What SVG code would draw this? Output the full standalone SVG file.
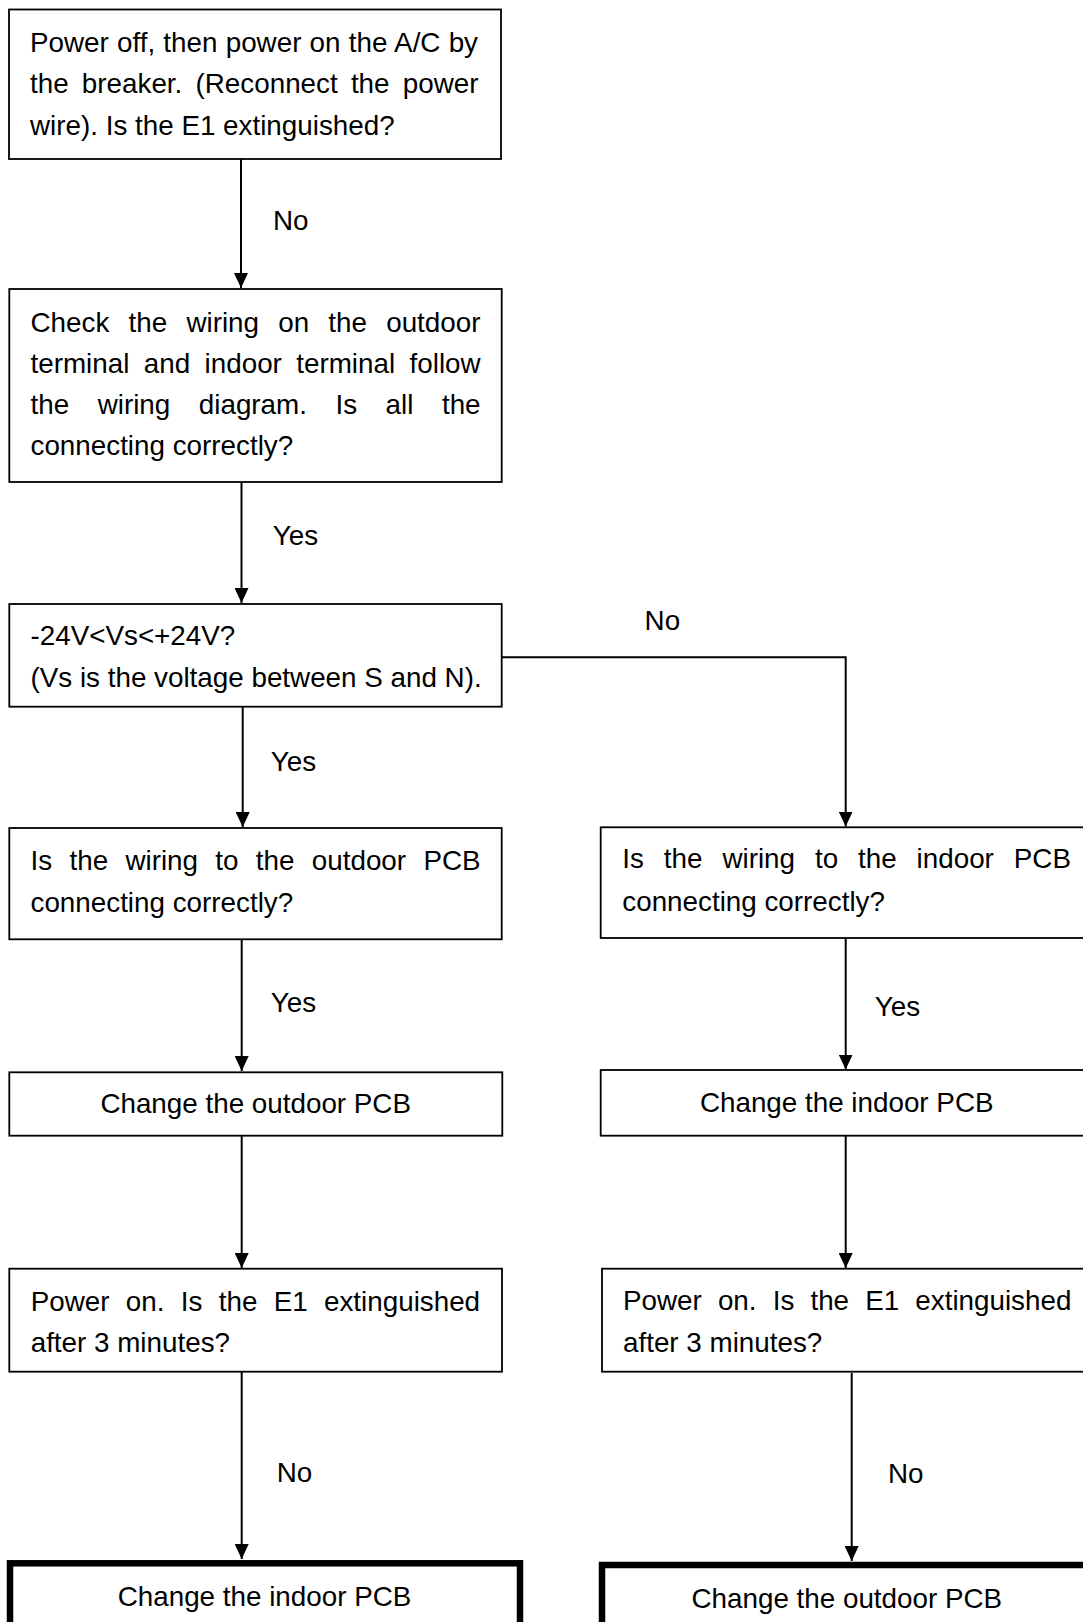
<svg xmlns="http://www.w3.org/2000/svg" width="1083" height="1622" viewBox="0 0 1083 1622">
<style>
  .box{fill:#fff;stroke:#000;stroke-width:1.8}
  .end{fill:#fff;stroke:#000;stroke-width:6.5}
  .t{font-family:"Liberation Sans",Arial,sans-serif;font-size:27.8px;fill:#000}
  .c{text-anchor:middle}
  .conn{fill:none;stroke:#000;stroke-width:2}
</style>
<defs>
  <marker id="arr" markerUnits="userSpaceOnUse" markerWidth="15" markerHeight="14" refX="15" refY="7" orient="auto">
    <path d="M0,0 L15,7 L0,14 z" fill="#000"/>
  </marker>
</defs>
<rect width="1083" height="1622" fill="#fff"/>

<g id="connectors">
  <line class="conn" x1="241" y1="159" x2="241" y2="288" marker-end="url(#arr)"/>
  <line class="conn" x1="241.5" y1="482" x2="241.5" y2="603" marker-end="url(#arr)"/>
  <line class="conn" x1="242.7" y1="707" x2="242.7" y2="827" marker-end="url(#arr)"/>
  <line class="conn" x1="241.7" y1="939" x2="241.7" y2="1071" marker-end="url(#arr)"/>
  <line class="conn" x1="241.7" y1="1136" x2="241.7" y2="1268" marker-end="url(#arr)"/>
  <line class="conn" x1="241.7" y1="1372" x2="241.7" y2="1559" marker-end="url(#arr)"/>
  <path class="conn" d="M501.7,657.3 H845.7 V826.5" marker-end="url(#arr)"/>
  <line class="conn" x1="845.7" y1="938" x2="845.7" y2="1069.5" marker-end="url(#arr)"/>
  <line class="conn" x1="845.7" y1="1134" x2="845.7" y2="1268" marker-end="url(#arr)"/>
  <line class="conn" x1="851.7" y1="1373" x2="851.7" y2="1561" marker-end="url(#arr)"/>
  <text class="t" x="273" y="230">No</text>
  <text class="t" x="272.7" y="545">Yes</text>
  <text class="t" x="644.6" y="630">No</text>
  <text class="t" x="270.7" y="770.7">Yes</text>
  <text class="t" x="270.7" y="1011.7">Yes</text>
  <text class="t" x="874.7" y="1016">Yes</text>
  <text class="t" x="276.7" y="1481.7">No</text>
  <text class="t" x="888" y="1483.3">No</text>
</g>

<g id="n1">
  <rect class="box" x="9" y="9.5" width="492" height="149.5"/>
  <text class="t" x="30" y="51.7" word-spacing="0.5">Power off, then power on the A/C by</text>
  <text class="t" x="30" y="93.3" word-spacing="5.5">the breaker. (Reconnect the power</text>
  <text class="t" x="30" y="135">wire). Is the E1 extinguished?</text>
</g>

<g id="n2">
  <rect class="box" x="9.3" y="289" width="492.4" height="193"/>
  <text class="t" x="30.5" y="331.7" word-spacing="11.5">Check the wiring on the outdoor</text>
  <text class="t" x="30.5" y="372.7" word-spacing="6.7">terminal and indoor terminal follow</text>
  <text class="t" x="30.5" y="414.3" word-spacing="20.8">the wiring diagram. Is all the</text>
  <text class="t" x="30.5" y="455">connecting correctly?</text>
</g>

<g id="n3">
  <rect class="box" x="9.3" y="604" width="492.4" height="102.7"/>
  <text class="t" x="30.5" y="645">-24V&lt;Vs&lt;+24V?</text>
  <text class="t" x="30.5" y="686.7">(Vs is the voltage between S and N).</text>
</g>

<g id="n4L">
  <rect class="box" x="9.3" y="828" width="492.4" height="111.3"/>
  <text class="t" x="30.5" y="870" word-spacing="9.6">Is the wiring to the outdoor PCB</text>
  <text class="t" x="30.5" y="911.7">connecting correctly?</text>
</g>

<g id="n4R">
  <rect class="box" x="600.7" y="827.3" width="494" height="110.7"/>
  <text class="t" x="622.3" y="868.3" word-spacing="12.2">Is the wiring to the indoor PCB</text>
  <text class="t" x="622.3" y="910.7">connecting correctly?</text>
</g>

<g id="n5L">
  <rect class="box" x="9.3" y="1072.3" width="493" height="63.4"/>
  <text class="t c" x="255.7" y="1113.3">Change the outdoor PCB</text>
</g>

<g id="n5R">
  <rect class="box" x="600.7" y="1070" width="494" height="65.7"/>
  <text class="t c" x="846.7" y="1111.7">Change the indoor PCB</text>
</g>

<g id="n6L">
  <rect class="box" x="9.3" y="1268.7" width="492.7" height="103"/>
  <text class="t" x="30.7" y="1310.7" word-spacing="8.6">Power on. Is the E1 extinguished</text>
  <text class="t" x="30.7" y="1351.7">after 3 minutes?</text>
</g>

<g id="n6R">
  <rect class="box" x="602" y="1268.7" width="494" height="103"/>
  <text class="t" x="623" y="1310" word-spacing="8.4">Power on. Is the E1 extinguished</text>
  <text class="t" x="623" y="1351.7">after 3 minutes?</text>
</g>

<g id="n7L">
  <rect class="end" x="10" y="1563.3" width="510" height="100"/>
  <text class="t c" x="264.5" y="1606">Change the indoor PCB</text>
</g>

<g id="n7R">
  <rect class="end" x="602" y="1565" width="500" height="100"/>
  <text class="t c" x="846.8" y="1608.3">Change the outdoor PCB</text>
</g>
</svg>
